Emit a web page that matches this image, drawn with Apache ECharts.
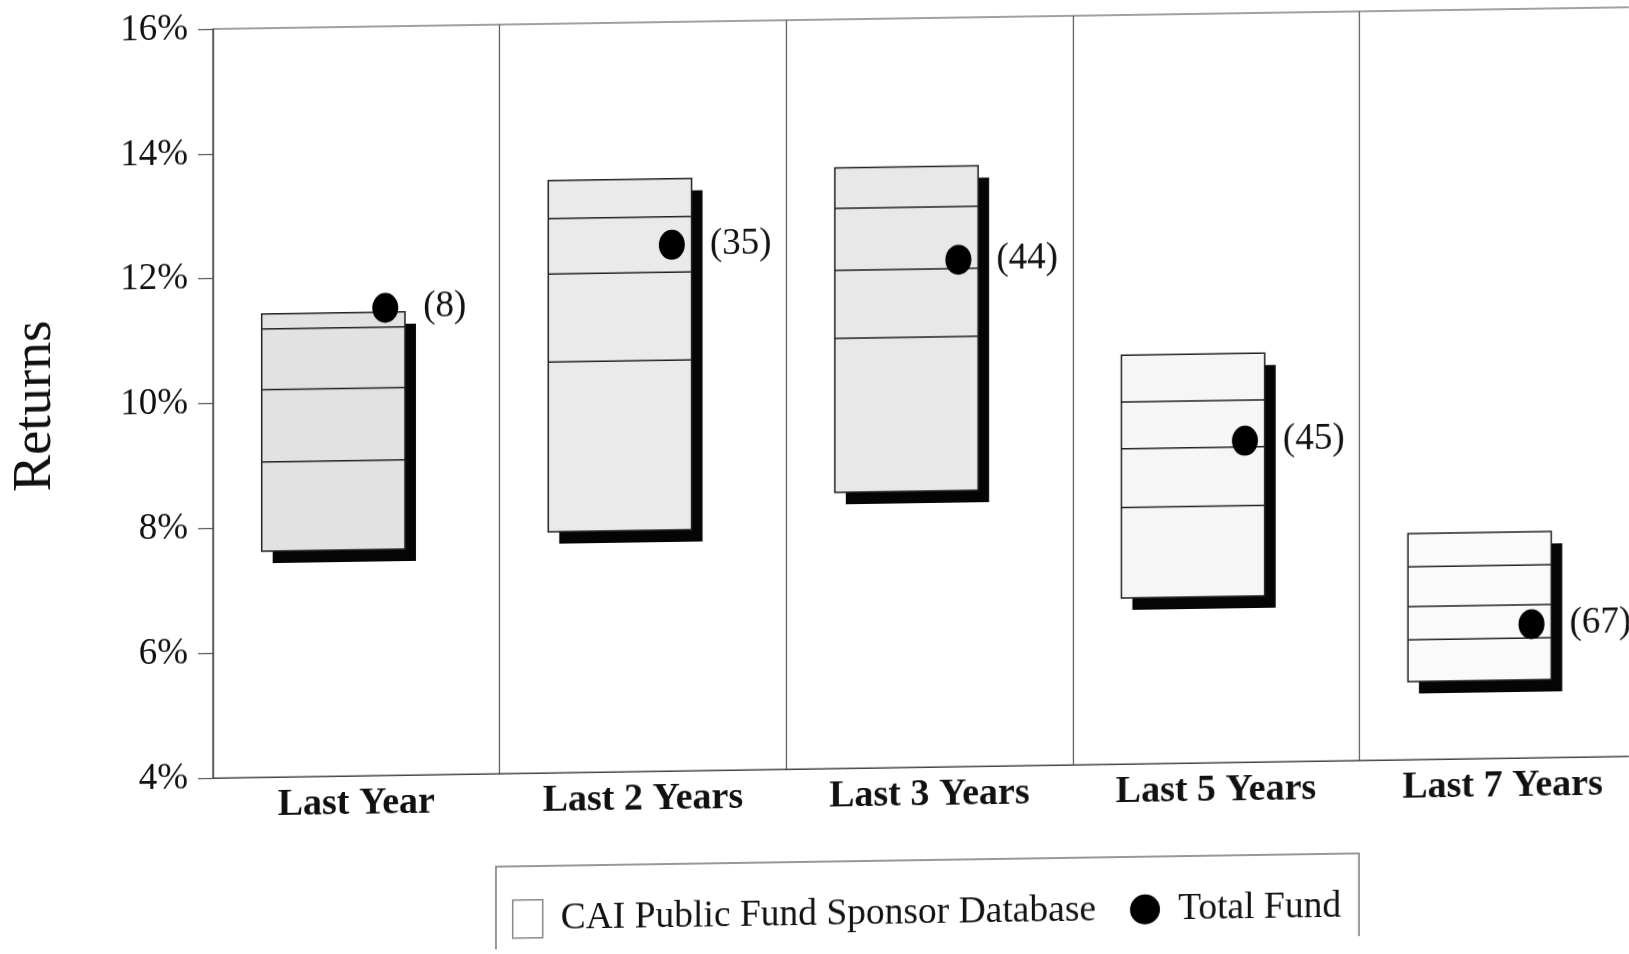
<!DOCTYPE html>
<html>
<head>
<meta charset="utf-8">
<script src="https://cdn.jsdelivr.net/npm/echarts@6/dist/echarts.min.js"></script>
<style>
  html, body { margin: 0; padding: 0; background: #fff; }
  /* the scanned original is slightly sheared: horizontals climb to the right */
  #chart { width: 1629px; height: 954px; transform: skewY(-0.88deg); transform-origin: 213px 0; }
</style>
</head>
<body>
<div id="chart"></div>
<script>
const categories = ['Last Year', 'Last 2 Years', 'Last 3 Years', 'Last 5 Years', 'Last 7 Years'];
const pct10 = [11.42, 13.49, 13.62, 10.55, 7.62];
const pct25 = [11.18, 12.88, 12.97, 9.80, 7.09];
const median = [10.21, 11.99, 11.98, 9.05, 6.45];
const pct75 = [9.05, 10.58, 10.89, 8.11, 5.92];
const pct90 = [7.62, 7.86, 8.42, 6.66, 5.25];
const totalFund = [11.49, 12.43, 12.12, 9.15, 6.14];
const fundRanks = [8, 35, 44, 45, 67];
const yTicks = [4, 6, 8, 10, 12, 14, 16];

const boxFills = ['#e2e2e2', '#eaeaea', '#e8e8e8', '#f6f6f6', '#fafafa'];
const SERIF = '"Liberation Serif", "Times New Roman", serif';

const chart = echarts.init(document.getElementById('chart'));

function renderBox(params, api) {
  const i = api.value(0);
  const vals = [api.value(1), api.value(2), api.value(3), api.value(4), api.value(5)];
  const band = api.size([1, 0])[0];
  const w = band * 0.5;
  const x0 = api.coord([i, vals[0]])[0] - band * 0.08 - w / 2;
  const yTop = api.coord([i, vals[0]])[1];
  const yBot = api.coord([i, vals[4]])[1];
  const children = [
    { type: 'rect', shape: { x: x0 + 11, y: yTop + 12, width: w, height: yBot - yTop }, style: { fill: '#050505' } },
    { type: 'rect', shape: { x: x0, y: yTop, width: w, height: yBot - yTop },
      style: { fill: boxFills[i], stroke: '#222', lineWidth: 1.5 } }
  ];
  for (let k = 1; k <= 3; k++) {
    const y = api.coord([i, vals[k]])[1];
    children.push({ type: 'line', shape: { x1: x0, y1: y, x2: x0 + w, y2: y },
      style: { stroke: '#222', lineWidth: 1.5 } });
  }
  return { type: 'group', children };
}

chart.setOption({
  animation: false,
  grid: {
    left: 213, top: 29, right: -17, bottom: 176,
    show: true, borderColor: '#444', borderWidth: 1.2,
    outerBoundsMode: 'none'
  },
  legend: {
    left: 496, top: 871,
    padding: [33, 18, 20, 16],
    itemGap: 34,
    itemWidth: 30,
    itemHeight: 38,
    borderColor: '#777',
    borderWidth: 1.5,
    textStyle: { fontSize: 37.5, fontFamily: SERIF, color: '#111', padding: [0, 0, 0, 13] },
    data: [
      { name: 'CAI Public Fund Sponsor Database', icon: 'rect',
        itemStyle: { color: '#fff', borderColor: '#888', borderWidth: 1.5 } },
      { name: 'Total Fund', icon: 'circle', itemStyle: { color: '#000' } }
    ]
  },
  xAxis: {
    type: 'category',
    data: categories,
    axisLine: { lineStyle: { color: '#444', width: 1.2 } },
    axisTick: { show: false },
    splitLine: { show: true, lineStyle: { color: '#555', width: 1.2 } },
    axisLabel: { fontSize: 38, fontWeight: 'bold', fontFamily: SERIF, color: '#111', margin: 9 }
  },
  yAxis: {
    type: 'value',
    min: yTicks[0],
    max: yTicks[yTicks.length - 1],
    interval: 2,
    name: 'Returns',
    nameLocation: 'middle',
    nameGap: 150,
    nameTextStyle: { fontSize: 55, fontFamily: SERIF, color: '#111' },
    axisLine: { show: true, lineStyle: { color: '#555', width: 1.2 } },
    axisTick: { show: true, length: 15, lineStyle: { color: '#555', width: 1.2 } },
    splitLine: { show: false },
    axisLabel: { formatter: '{value}%', fontSize: 37, fontFamily: SERIF, color: '#111', margin: 25 }
  },
  series: [
    {
      name: 'CAI Public Fund Sponsor Database',
      type: 'custom',
      renderItem: renderBox,
      itemStyle: { color: '#fff' },
      encode: { x: 0, y: [1, 2, 3, 4, 5] },
      data: categories.map((c, i) => [i, pct10[i], pct25[i], median[i], pct75[i], pct90[i]])
    },
    {
      name: 'Total Fund',
      type: 'scatter',
      symbol: 'circle',
      symbolSize: [26, 30],
      symbolOffset: [29, 0],
      itemStyle: { color: '#000', opacity: 1 },
      label: {
        show: true,
        position: 'right',
        distance: 25,
        formatter: p => '(' + fundRanks[p.dataIndex] + ')',
        fontSize: 37,
        fontFamily: SERIF,
        color: '#111'
      },
      z: 5,
      data: totalFund.map((v, i) => [i, v])
    }
  ]
});
</script>
</body>
</html>
